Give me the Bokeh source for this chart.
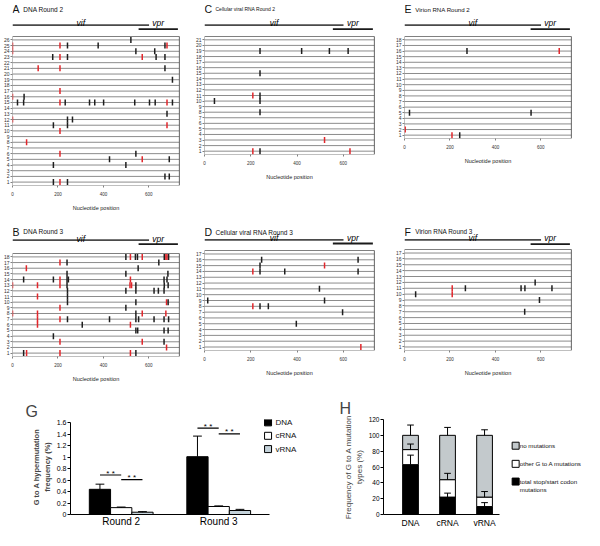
import numpy as np
from bokeh.plotting import figure
from bokeh.models import Range1d, FixedTicker, ColumnDataSource
from bokeh.layouts import row, column
from bokeh.transform import dodge
from bokeh.core.properties import value
from bokeh.embed import file_html
from bokeh.resources import INLINE

FONT = "Liberation Sans"
RED = "#e2262b"
BLK = "#1e1e1e"
ROWLINE = "#8c8c8c"

# ---------------- data ----------------
gene_names = ["vif", "vpr"]
gene_start = [0, 555]
gene_end = [601, 728]
nt_max = 735
nt_ticks = [0, 200, 400, 600]

# G-to-A mutations per clone: (clone row, nucleotide position, kind) r = stop/start codon, k = other
dna_r2 = [
    (26, 521, 'k'),
    (25, 0, 'r'), (25, 209, 'r'), (25, 242, 'k'), (25, 377, 'k'), (25, 671, 'k'), (25, 680, 'r'),
    (24, 0, 'r'), (24, 543, 'k'), (24, 626, 'k'),
    (23, 177, 'k'), (23, 209, 'r'), (23, 242, 'k'), (23, 571, 'r'), (23, 632, 'k'), (23, 671, 'k'),
    (21, 113, 'r'), (21, 209, 'r'), (21, 671, 'k'),
    (19, 704, 'k'),
    (17, 209, 'r'),
    (16, 0, 'r'), (16, 51, 'k'),
    (15, 22, 'k'), (15, 49, 'k'), (15, 209, 'r'), (15, 232, 'k'), (15, 339, 'k'), (15, 362, 'k'),
    (15, 401, 'k'), (15, 538, 'k'), (15, 603, 'k'), (15, 628, 'k'), (15, 680, 'r'), (15, 704, 'k'),
    (13, 680, 'k'),
    (12, 0, 'r'), (12, 242, 'k'), (12, 264, 'k'),
    (11, 180, 'k'), (11, 242, 'k'), (11, 680, 'r'),
    (10, 209, 'r'),
    (8, 62, 'r'),
    (6, 209, 'r'), (6, 543, 'k'),
    (5, 427, 'k'), (5, 571, 'r'), (5, 690, 'k'),
    (4, 180, 'k'), (4, 499, 'k'),
    (2, 671, 'k'), (2, 690, 'k'),
    (1, 180, 'k'), (1, 209, 'r'), (1, 242, 'k'),
]
dna_r3 = [
    (18, 499, 'k'), (18, 519, 'r'), (18, 541, 'k'), (18, 550, 'k'), (18, 571, 'r'), (18, 668, 'k'),
    (18, 675, 'r'), (18, 680, 'r'), (18, 687, 'k'),
    (17, 209, 'r'), (17, 240, 'k'), (17, 644, 'k'),
    (16, 61, 'r'), (16, 553, 'k'),
    (15, 240, 'k'), (15, 499, 'k'), (15, 684, 'k'),
    (14, 49, 'k'), (14, 180, 'k'), (14, 209, 'r'), (14, 240, 'k'), (14, 246, 'k'), (14, 519, 'r'),
    (14, 667, 'k'), (14, 680, 'k'),
    (13, 0, 'r'), (13, 110, 'r'), (13, 209, 'r'), (13, 240, 'k'), (13, 517, 'r'), (13, 524, 'r'),
    (13, 543, 'k'), (13, 668, 'k'), (13, 685, 'k'),
    (12, 242, 'k'), (12, 499, 'k'), (12, 543, 'k'), (12, 623, 'k'), (12, 642, 'k'), (12, 667, 'k'),
    (11, 110, 'r'), (11, 242, 'k'),
    (10, 242, 'k'), (10, 543, 'k'), (10, 678, 'r'), (10, 685, 'k'),
    (9, 209, 'r'), (9, 499, 'k'),
    (8, 0, 'r'), (8, 110, 'r'), (8, 543, 'k'), (8, 571, 'r'), (8, 675, 'r'),
    (7, 110, 'r'), (7, 209, 'r'), (7, 242, 'k'), (7, 427, 'k'), (7, 543, 'k'), (7, 555, 'k'),
    (7, 623, 'k'), (7, 667, 'k'), (7, 687, 'k'),
    (6, 110, 'r'), (6, 307, 'k'), (6, 519, 'r'),
    (5, 543, 'k'), (5, 551, 'k'), (5, 667, 'k'), (5, 685, 'k'),
    (4, 180, 'k'),
    (3, 209, 'r'), (3, 571, 'r'), (3, 667, 'k'),
    (2, 678, 'r'),
    (1, 49, 'k'), (1, 62, 'r'), (1, 209, 'r'), (1, 519, 'r'), (1, 543, 'k'),
]
crna_r2 = [
    (19, 240, 'k'), (19, 420, 'k'), (19, 540, 'k'), (19, 621, 'k'),
    (15, 240, 'k'),
    (11, 209, 'r'), (11, 240, 'k'),
    (10, 43, 'k'), (10, 240, 'k'),
    (8, 240, 'k'),
    (3, 519, 'r'),
    (1, 209, 'r'), (1, 240, 'k'), (1, 629, 'r'),
]
crna_r3 = [
    (16, 247, 'k'), (16, 664, 'k'),
    (15, 240, 'k'), (15, 519, 'r'),
    (14, 209, 'r'), (14, 240, 'k'), (14, 347, 'k'), (14, 664, 'k'),
    (11, 497, 'k'),
    (9, 14, 'k'), (9, 519, 'k'),
    (8, 209, 'r'), (8, 240, 'k'), (8, 276, 'k'),
    (7, 597, 'k'),
    (5, 397, 'k'),
    (1, 676, 'r'),
]
vrna_r2 = [
    (16, 275, 'k'), (16, 681, 'r'),
    (5, 22, 'k'), (5, 557, 'k'),
    (2, 3, 'r'),
    (1, 209, 'r'), (1, 243, 'k'),
]
vrna_r3 = [
    (12, 575, 'k'),
    (11, 210, 'r'), (11, 268, 'k'), (11, 513, 'k'), (11, 530, 'k'), (11, 649, 'k'),
    (10, 49, 'k'), (10, 210, 'r'),
    (9, 594, 'k'),
    (7, 529, 'k'),
]

# panel G
rounds = ["Round 2", "Round 3"]
dna_freq = [0.44, 1.01]
dna_sem = [0.09, 0.36]
crna_freq = [0.12, 0.14]
crna_sem = [0.01, 0.01]
vrna_freq = [0.04, 0.07]
vrna_sem = [0.01, 0.02]
sig_dna_crna = [0.69, 1.51]
sig_crna_vrna = [0.61, 1.41]
g_ticks = [0, 0.2, 0.4, 0.6, 0.8, 1.0, 1.2, 1.4, 1.6]
g_tick_labels = ["0", "0.2", "0.4", "0.6", "0.8", "1", "1.2", "1.4", "1.6"]
g_legend = ["DNA", "cRNA", "vRNA"]
g_colors = ["black", "white", "#c4d2da"]

# panel H
sample_types = ["DNA", "cRNA", "vRNA"]
stop_start = [63, 22, 10]
stop_start_err = [12, 5, 5]
other_ga = [19, 22, 12]
other_ga_err = [7, 8, 7]
no_mut = [18, 56, 78]
no_mut_err = [13, 10, 7]
h_ticks = [0, 20, 40, 60, 80, 100, 120]
h_legend = ["no mutations", "other G to A mutations", "total stop/start codon\nmutations"]
h_colors = ["#c3c9cc", "white", "black"]


def base_fig(**kw):
    return figure(toolbar_location=None, output_backend="svg", **kw)


def mut_panel(data, n, cx0, cx1, cy0, cy1, box, letter, title, title_fs,
              base_y, vif_y, vpr_y, lab_y):
    bl, br, bt, bb = box
    w = cx1 - cx0
    s = (br - bl) / nt_max
    rs = (bb - bt) / (n + 0.2)

    def nt(px):
        return (px - bl) / s

    def yd(sy):
        return 0.4 + (bb - sy) / rs

    p = base_fig(width=w, height=cy1 - cy0, x_range=Range1d(0, nt_max),
                 y_range=Range1d(0.4, yd(cy0)),
                 min_border_left=bl - cx0, min_border_right=cx1 - br,
                 min_border_top=0, min_border_bottom=cy1 - bb)
    p.outline_line_color = None
    p.grid.visible = False

    # panel letter and title
    p.text(x=[0], y=[yd(base_y)], text=[letter], text_font=value(FONT), text_font_size="10.5px",
           text_baseline="alphabetic", text_color="#111111")
    p.text(x=[nt(bl + 11)], y=[yd(base_y)], text=[title], text_font=value(FONT),
           text_font_size=title_fs, text_baseline="alphabetic", text_color="#111111")

    # gene bars
    gsrc = ColumnDataSource(dict(
        name=gene_names, x0=gene_start, x1=gene_end,
        y=[yd(vif_y), yd(vpr_y)],
        mid=[(a + b) / 2 for a, b in zip(gene_start, gene_end)],
        ly=[yd(lab_y), yd(lab_y)],
        col=["#4a4a4a", "#1a1a1a"]))
    p.segment(x0="x0", x1="x1", y0="y", y1="y", line_color="col", line_width=1.8, source=gsrc)
    p.text(x="mid", y="ly", text="name", text_font=value(FONT), text_font_size="8.5px",
           text_font_style="italic", text_align="center", text_baseline="alphabetic",
           text_color="#000000", source=gsrc)

    # clone rows and box
    rows = list(range(1, n + 1))
    p.segment(x0=0, x1=nt_max, y0=rows, y1=rows, line_color=ROWLINE, line_width=1)
    p.quad(left=0, right=nt_max, bottom=0.4, top=n + 0.6, fill_color=None,
           line_color="#808080", line_width=1)
    p.segment(x0=[nt_max], x1=[nt_max], y0=[0.4], y1=[n + 0.6], line_color="#333333",
              line_width=1.2)

    for ax in (p.xaxis, p.yaxis):
        ax.axis_line_color = None
        ax.major_tick_line_color = "#808080"
        ax.minor_tick_line_color = None
        ax.minor_tick_out = 0
        ax.major_tick_out = 2
        ax.major_tick_in = 0
        ax.major_label_text_font = FONT
        ax.major_label_text_color = "#333333"
    p.xaxis.ticker = FixedTicker(ticks=nt_ticks)
    p.xaxis.major_label_text_font_size = "4.5px"
    p.xaxis.major_label_standoff = 4
    p.xaxis.axis_label = "Nucleotide position"
    p.xaxis.axis_label_text_font = FONT
    p.xaxis.axis_label_text_font_size = "5.5px"
    p.xaxis.axis_label_text_font_style = "normal"
    p.xaxis.axis_label_text_color = "#222222"
    p.xaxis.axis_label_standoff = 6
    p.yaxis.ticker = FixedTicker(ticks=rows)
    p.yaxis.major_label_text_font_size = "5px"
    p.yaxis.major_label_standoff = 1

    src = ColumnDataSource(dict(
        row=[d[0] for d in data], pos=[d[1] for d in data],
        color=[RED if d[2] == 'r' else BLK for d in data]))
    p.scatter(x="pos", y="row", marker="dash", angle=np.pi / 2, size=6,
              line_color="color", line_width=1.5, source=src)
    return p


A = mut_panel(dna_r2, 26, 8, 200, 8, 230, (17, 187, 44, 193), "A", "DNA Round 2", "6.5px",
              16.5, 32.7, 36.7, 30.5)
B = mut_panel(dna_r3, 18, 8, 200, 230, 395, (17, 187, 261, 364), "B", "DNA Round 3", "6.5px",
              239, 247.7, 251.7, 246)
C = mut_panel(crna_r2, 21, 200, 400, 8, 230, (212, 382, 44, 162), "C",
              "Cellular viral RNA Round 2", "5px", 16.5, 32.7, 36.7, 30.5)
D = mut_panel(crna_r3, 17, 200, 400, 230, 395, (212, 382, 258, 358), "D",
              "Cellular viral RNA Round 3", "6.5px", 239.5, 247.3, 251, 245.5)
E = mut_panel(vrna_r2, 18, 400, 592, 8, 230, (409, 579, 44, 146), "E",
              "Virion RNA Round 2", "6.1px", 16.5, 32.7, 36.7, 30.5)
F = mut_panel(vrna_r3, 17, 400, 592, 230, 395, (409, 579, 257, 358), "F",
              "Virion RNA Round 3", "6.4px", 239, 247.3, 251.7, 245.5)

# ---------------- panel G ----------------
gx = list(range(len(rounds)))
pg = base_fig(width=297, height=143, x_range=Range1d(-0.52, 1.808), y_range=Range1d(0, 1.66),
              min_border_left=70, min_border_right=0, min_border_top=19, min_border_bottom=13,
              title="G")
pg.title.align = "left"
pg.title.offset = -45
pg.title.standoff = 0
pg.title.text_font = FONT
pg.title.text_font_size = "16px"
pg.title.text_font_style = "normal"
pg.outline_line_color = None
pg.grid.visible = False
gsrc = ColumnDataSource(dict(
    gx=gx,
    dna=dna_freq, dna_hi=list(np.add(dna_freq, dna_sem)),
    crna=crna_freq, crna_hi=list(np.add(crna_freq, crna_sem)),
    vrna=vrna_freq, vrna_hi=list(np.add(vrna_freq, vrna_sem)),
    sig1=sig_dna_crna, sig2=sig_crna_vrna, stars=["* *", "* *"]))
bw = 0.218
cap = 0.045
for off, top, col in [(-bw, "dna", g_colors[0]), (0, "crna", g_colors[1]), (bw, "vrna", g_colors[2])]:
    pg.vbar(x=dodge("gx", off), top=top, width=bw, fill_color=col, line_color="black",
            source=gsrc)
for off, lo, hi in [(-bw, "dna", "dna_hi"), (0, "crna", "crna_hi"), (bw, "vrna", "vrna_hi")]:
    pg.segment(x0=dodge("gx", off), x1=dodge("gx", off), y0=lo, y1=hi, line_color="black",
               line_width=1, source=gsrc)
    pg.segment(x0=dodge("gx", off - cap), x1=dodge("gx", off + cap), y0=hi, y1=hi,
               line_color="black", line_width=1, source=gsrc)
pg.segment(x0=dodge("gx", -bw), x1=dodge("gx", 0), y0="sig1", y1="sig1",
           line_color="black", line_width=1.2, source=gsrc)
pg.segment(x0=dodge("gx", 0), x1=dodge("gx", bw), y0="sig2", y1="sig2",
           line_color="black", line_width=1.2, source=gsrc)
pg.text(x=dodge("gx", -bw / 2), y="sig1", text="stars", text_font=value(FONT),
        text_font_size="8px", text_align="center", text_baseline="middle", y_offset=-2, source=gsrc)
pg.text(x=dodge("gx", bw / 2), y="sig2", text="stars", text_font=value(FONT),
        text_font_size="8px", text_align="center", text_baseline="middle", y_offset=-2, source=gsrc)

lg_src = ColumnDataSource(dict(label=g_legend, color=g_colors,
                               x=[1.506] * 3, tx=[1.583] * 3, y=[1.61, 1.375, 1.143]))
pg.scatter(x="x", y="y", marker="square", size=7, fill_color="color", line_color="black",
           line_width=1, source=lg_src)
pg.text(x="tx", y="y", text="label", text_font=value(FONT), text_font_size="8px",
        text_baseline="middle", text_color="#111111", source=lg_src)

pg.xaxis.ticker = FixedTicker(ticks=gx)
pg.xaxis.major_label_overrides = dict(zip(gx, rounds))
pg.xaxis.bounds = (-0.52, 1.52)
pg.xaxis.major_tick_line_color = None
pg.xaxis.minor_tick_line_color = None
pg.xaxis.major_tick_out = 0
pg.xaxis.minor_tick_out = 0
pg.xaxis.axis_line_color = "black"
pg.xaxis.major_label_text_font = FONT
pg.xaxis.major_label_text_font_size = "10px"
pg.xaxis.major_label_text_color = "black"
pg.xaxis.major_label_standoff = 1
pg.yaxis.ticker = FixedTicker(ticks=g_ticks)
pg.yaxis.bounds = (0, 1.6)
pg.yaxis.major_label_overrides = dict(zip(g_ticks, g_tick_labels))
pg.yaxis.major_label_text_font = FONT
pg.yaxis.major_label_text_font_size = "7px"
pg.yaxis.major_label_text_color = "black"
pg.yaxis.major_tick_out = 3
pg.yaxis.major_tick_in = 0
pg.yaxis.minor_tick_line_color = None
pg.yaxis.minor_tick_out = 0
pg.yaxis.axis_line_color = "black"
pg.yaxis.major_label_standoff = 1
pg.yaxis.axis_label = "G to A hypermutation\nfrequency (%)"
pg.yaxis.axis_label_text_font = FONT
pg.yaxis.axis_label_text_font_size = "7.5px"
pg.yaxis.axis_label_text_font_style = "bold"
pg.yaxis.axis_label_standoff = 2

# ---------------- panel H ----------------
hxs = list(range(len(sample_types)))
ph = base_fig(width=287, height=143, x_range=Range1d(-0.73, 4.70), y_range=Range1d(0, 120),
              min_border_left=86, min_border_right=0, min_border_top=32, min_border_bottom=13,
              title="H")
ph.title.align = "left"
ph.title.offset = -44
ph.title.standoff = 6
ph.title.text_font = FONT
ph.title.text_font_size = "16px"
ph.title.text_font_style = "normal"
ph.outline_line_color = None
ph.grid.visible = False
t1 = np.array(stop_start, dtype=float)
t2 = t1 + np.array(other_ga)
t3 = t2 + np.array(no_mut)
hsrc = ColumnDataSource(dict(
    hx=hxs, stop=stop_start, other=other_ga, none=no_mut,
    t1=list(t1), t2=list(t2), t3=list(t3),
    e1=list(t1 + np.array(stop_start_err)), e2=list(t2 + np.array(other_ga_err)),
    e3=list(t3 + np.array(no_mut_err))))
ph.vbar_stack(["stop", "other", "none"], x="hx", width=0.425,
              fill_color=["black", "white", "#c3c9cc"], line_color="black", source=hsrc)
for lo, hi in [("t1", "e1"), ("t2", "e2"), ("t3", "e3")]:
    ph.segment(x0="hx", x1="hx", y0=lo, y1=hi, line_color="black", line_width=1, source=hsrc)
    ph.segment(x0=dodge("hx", -0.09), x1=dodge("hx", 0.09), y0=hi, y1=hi,
               line_color="black", line_width=1, source=hsrc)

lh_src = ColumnDataSource(dict(label=h_legend, color=h_colors,
                               x=[2.84] * 3, tx=[2.95] * 3, y=[86.9, 64.0, 41.6]))
ph.scatter(x="x", y="y", marker="square", size=7, fill_color="color", line_color="black",
           line_width=1, source=lh_src)
ph.text(x="tx", y="y", y_offset=-4, text="label", text_font=value(FONT), text_font_size="6.2px",
        text_baseline="top", text_line_height=1.25, text_color="#111111", source=lh_src)

ph.xaxis.ticker = FixedTicker(ticks=hxs)
ph.xaxis.major_label_overrides = dict(zip(hxs, sample_types))
ph.xaxis.bounds = (-0.73, 2.4)
ph.xaxis.major_tick_line_color = None
ph.xaxis.minor_tick_line_color = None
ph.xaxis.major_tick_out = 0
ph.xaxis.minor_tick_out = 0
ph.xaxis.axis_line_color = "black"
ph.xaxis.major_label_text_font = FONT
ph.xaxis.major_label_text_font_size = "8.5px"
ph.xaxis.major_label_text_color = "black"
ph.xaxis.major_label_standoff = 3
ph.yaxis.ticker = FixedTicker(ticks=h_ticks)
ph.yaxis.major_label_text_font = FONT
ph.yaxis.major_label_text_font_size = "6.5px"
ph.yaxis.major_label_text_color = "black"
ph.yaxis.major_tick_out = 3
ph.yaxis.major_tick_in = 0
ph.yaxis.minor_tick_line_color = None
ph.yaxis.minor_tick_out = 0
ph.yaxis.axis_line_color = "black"
ph.yaxis.major_label_standoff = 1
ph.yaxis.axis_label = "Frequency of G to A mutation\ntypes (%)"
ph.yaxis.axis_label_text_font = FONT
ph.yaxis.axis_label_text_font_size = "8px"
ph.yaxis.axis_label_text_font_style = "normal"
ph.yaxis.axis_label_standoff = 2

layout = column(
    row(column(A, B), column(C, D), column(E, F)),
    row(pg, ph),
)

open("out.html", "w").write(file_html(layout, INLINE, "Hypermutation"))
